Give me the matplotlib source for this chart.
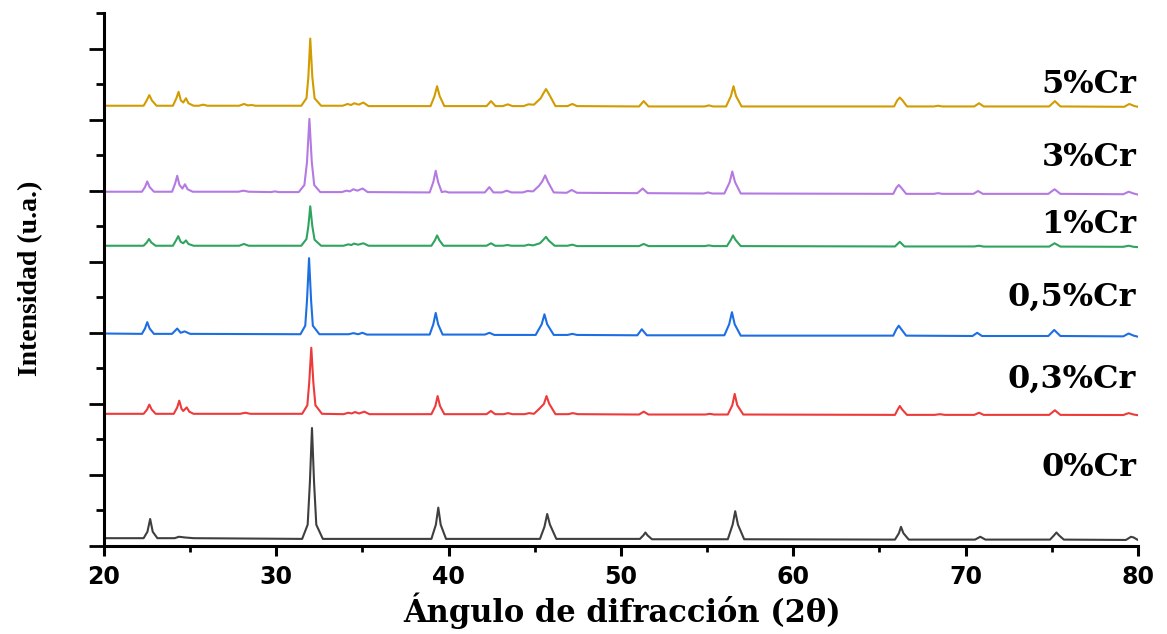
import matplotlib
matplotlib.use("Agg")
import matplotlib.pyplot as plt
from matplotlib.ticker import MultipleLocator

# ------------------------------------------------------------
# XRD patterns (2theta, stacked intensity)
# ------------------------------------------------------------
cr_0 = [(20.0, 0.11), (22.3, 0.11), (22.52, 0.2), (22.68, 0.38), (22.83, 0.2), (23.1, 0.11),
        (24.1, 0.11), (24.35, 0.13), (24.7, 0.12), (25.2, 0.11),
        (31.5, 0.10), (31.82, 0.3), (31.95, 0.9), (32.07, 1.66), (32.19, 0.9), (32.32, 0.3), (32.7, 0.10),
        (39.0, 0.10), (39.26, 0.3), (39.4, 0.54), (39.54, 0.3), (39.85, 0.10),
        (45.3, 0.10), (45.56, 0.27), (45.72, 0.45), (45.88, 0.3), (46.25, 0.10),
        (51.1, 0.10), (51.3, 0.15), (51.42, 0.19), (51.54, 0.15), (51.8, 0.095),
        (56.2, 0.095), (56.48, 0.3), (56.63, 0.49), (56.79, 0.3), (57.15, 0.095),
        (65.9, 0.09), (66.13, 0.18), (66.25, 0.27), (66.39, 0.18), (66.7, 0.09),
        (70.55, 0.09), (70.85, 0.13), (71.15, 0.09),
        (74.9, 0.09), (75.13, 0.15), (75.27, 0.19), (75.42, 0.15), (75.7, 0.09),
        (79.3, 0.085), (79.6, 0.13), (79.75, 0.12), (80.0, 0.085)]

cr_03 = [(20.0, 1.86), (22.3, 1.86), (22.5, 1.92), (22.63, 1.99), (22.77, 1.92), (23.0, 1.86),
         (24.05, 1.86), (24.25, 1.95), (24.37, 2.045), (24.5, 1.93), (24.6, 1.90), (24.8, 1.95), (24.95, 1.89), (25.2, 1.86),
         (27.9, 1.86), (28.2, 1.875), (28.5, 1.86),
         (31.5, 1.86), (31.8, 1.98), (31.91, 2.3), (32.03, 2.79), (32.15, 2.3), (32.27, 1.98), (32.65, 1.86),
         (33.9, 1.855), (34.18, 1.875), (34.37, 1.865), (34.57, 1.885), (34.8, 1.865), (35.11, 1.89), (35.4, 1.855),
         (39.0, 1.855), (39.23, 1.97), (39.36, 2.11), (39.5, 1.97), (39.75, 1.855),
         (42.2, 1.855), (42.45, 1.90), (42.7, 1.855),
         (43.2, 1.855), (43.45, 1.87), (43.7, 1.855),
         (44.4, 1.855), (44.67, 1.87), (44.95, 1.86), (45.3, 1.94), (45.53, 2.0), (45.68, 2.11), (45.84, 2.0), (46.2, 1.855),
         (46.95, 1.855), (47.2, 1.87), (47.5, 1.855),
         (51.05, 1.85), (51.32, 1.89), (51.6, 1.85),
         (54.9, 1.85), (55.16, 1.86), (55.4, 1.85),
         (56.2, 1.85), (56.46, 1.98), (56.6, 2.14), (56.75, 1.98), (57.1, 1.85),
         (65.9, 1.845), (66.06, 1.92), (66.18, 1.97), (66.32, 1.92), (66.6, 1.845),
         (68.2, 1.845), (68.5, 1.855), (68.8, 1.845),
         (70.5, 1.845), (70.78, 1.875), (71.05, 1.845),
         (74.85, 1.845), (75.18, 1.91), (75.5, 1.845),
         (79.15, 1.843), (79.46, 1.87), (79.75, 1.85), (80.0, 1.84)]

cr_05 = [(20.0, 2.99), (22.2, 2.985), (22.38, 3.06), (22.51, 3.15), (22.65, 3.06), (22.9, 2.985),
         (23.95, 2.985), (24.25, 3.06), (24.45, 3.0), (24.68, 3.02), (25.0, 2.985),
         (31.4, 2.98), (31.68, 3.1), (31.78, 3.45), (31.9, 4.05), (32.02, 3.45), (32.12, 3.1), (32.5, 2.98),
         (34.2, 2.98), (34.47, 2.995), (34.75, 2.98), (35.0, 3.0), (35.25, 2.975),
         (38.9, 2.975), (39.11, 3.12), (39.25, 3.28), (39.39, 3.12), (39.65, 2.975),
         (42.1, 2.975), (42.37, 3.0), (42.65, 2.97),
         (45.05, 2.97), (45.4, 3.12), (45.56, 3.26), (45.72, 3.12), (46.1, 2.97),
         (46.9, 2.97), (47.18, 2.985), (47.45, 2.97),
         (50.95, 2.965), (51.21, 3.05), (51.5, 2.965),
         (56.0, 2.965), (56.28, 3.12), (56.44, 3.29), (56.6, 3.12), (56.95, 2.96),
         (65.8, 2.96), (65.98, 3.05), (66.12, 3.10), (66.27, 3.05), (66.55, 2.96),
         (70.4, 2.955), (70.67, 3.0), (70.95, 2.955),
         (74.8, 2.955), (75.14, 3.04), (75.5, 2.955),
         (79.15, 2.95), (79.46, 2.99), (79.75, 2.96), (80.0, 2.945)]

cr_1 = [(20.0, 4.225), (22.3, 4.225), (22.48, 4.27), (22.61, 4.32), (22.75, 4.27), (23.0, 4.225),
        (24.0, 4.225), (24.18, 4.3), (24.31, 4.36), (24.45, 4.28), (24.6, 4.26), (24.76, 4.30), (24.9, 4.25), (25.2, 4.225),
        (27.85, 4.225), (28.12, 4.25), (28.4, 4.225),
        (31.45, 4.225), (31.75, 4.32), (31.86, 4.5), (31.97, 4.78), (32.09, 4.5), (32.22, 4.31), (32.6, 4.225),
        (33.9, 4.225), (34.18, 4.245), (34.35, 4.235), (34.51, 4.255), (34.75, 4.24), (35.05, 4.26), (35.35, 4.225),
        (39.0, 4.225), (39.2, 4.3), (39.33, 4.37), (39.47, 4.3), (39.7, 4.225),
        (42.2, 4.225), (42.46, 4.26), (42.7, 4.225),
        (43.15, 4.225), (43.41, 4.235), (43.65, 4.225),
        (44.4, 4.225), (44.63, 4.24), (44.9, 4.23), (45.3, 4.26), (45.5, 4.31), (45.65, 4.35), (45.8, 4.3), (46.15, 4.225),
        (46.9, 4.225), (47.18, 4.24), (47.45, 4.22),
        (51.05, 4.22), (51.32, 4.25), (51.6, 4.22),
        (54.85, 4.22), (55.1, 4.23), (55.35, 4.22),
        (56.15, 4.22), (56.38, 4.31), (56.5, 4.37), (56.64, 4.31), (56.95, 4.22),
        (65.9, 4.215), (66.18, 4.28), (66.45, 4.215),
        (70.5, 4.215), (70.78, 4.225), (71.05, 4.213),
        (74.85, 4.213), (75.16, 4.26), (75.5, 4.213),
        (79.15, 4.21), (79.46, 4.225), (79.75, 4.21), (80.0, 4.205)]

cr_3 = [(20.0, 4.985), (22.2, 4.985), (22.38, 5.05), (22.51, 5.13), (22.65, 5.05), (22.9, 4.985),
        (23.95, 4.985), (24.13, 5.1), (24.25, 5.21), (24.38, 5.08), (24.55, 5.03), (24.7, 5.09), (24.85, 5.02), (25.15, 4.985),
        (27.8, 4.985), (28.09, 5.0), (28.4, 4.985),
        (29.7, 4.98), (29.92, 4.99), (30.15, 4.98),
        (31.3, 4.98), (31.63, 5.08), (31.78, 5.4), (31.92, 6.01), (32.06, 5.4), (32.2, 5.08), (32.55, 4.98),
        (33.8, 4.98), (34.08, 5.0), (34.27, 4.99), (34.47, 5.02), (34.7, 5.0), (35.01, 5.03), (35.3, 4.98),
        (38.9, 4.975), (39.11, 5.12), (39.25, 5.28), (39.39, 5.12), (39.6, 4.98), (39.8, 4.99), (40.0, 4.975),
        (42.1, 4.975), (42.36, 5.05), (42.6, 4.975),
        (43.1, 4.975), (43.37, 5.0), (43.65, 4.975),
        (44.3, 4.975), (44.57, 4.995), (44.9, 4.99), (45.25, 5.07), (45.43, 5.13), (45.6, 5.215), (45.77, 5.12), (46.1, 4.975),
        (46.85, 4.97), (47.14, 5.01), (47.45, 4.97),
        (50.95, 4.965), (51.26, 5.03), (51.55, 4.965),
        (54.8, 4.96), (55.05, 4.975), (55.3, 4.96),
        (56.0, 4.96), (56.31, 5.12), (56.46, 5.27), (56.62, 5.12), (56.95, 4.96),
        (65.8, 4.955), (65.98, 5.04), (66.12, 5.08), (66.27, 5.04), (66.55, 4.955),
        (68.15, 4.955), (68.4, 4.965), (68.65, 4.955),
        (70.45, 4.955), (70.72, 4.995), (71.0, 4.955),
        (74.8, 4.955), (75.16, 5.02), (75.5, 4.955),
        (79.15, 4.95), (79.46, 4.985), (79.75, 4.96), (80.0, 4.945)]

cr_5 = [(20.0, 6.195), (22.3, 6.195), (22.48, 6.27), (22.63, 6.345), (22.78, 6.27), (23.05, 6.195),
        (24.0, 6.195), (24.2, 6.3), (24.33, 6.39), (24.46, 6.27), (24.6, 6.24), (24.76, 6.3), (24.9, 6.23), (25.2, 6.195),
        (25.5, 6.195), (25.76, 6.21), (26.0, 6.195),
        (27.85, 6.195), (28.12, 6.22), (28.35, 6.2), (28.57, 6.205), (28.8, 6.195),
        (31.45, 6.195), (31.75, 6.3), (31.86, 6.6), (31.97, 7.14), (32.09, 6.6), (32.22, 6.3), (32.6, 6.195),
        (33.85, 6.195), (34.14, 6.22), (34.33, 6.205), (34.53, 6.23), (34.78, 6.21), (35.05, 6.24), (35.35, 6.19),
        (38.95, 6.19), (39.18, 6.33), (39.33, 6.47), (39.48, 6.33), (39.75, 6.19),
        (42.2, 6.19), (42.46, 6.26), (42.72, 6.19),
        (43.15, 6.19), (43.43, 6.215), (43.7, 6.19),
        (44.35, 6.19), (44.63, 6.215), (44.95, 6.21), (45.34, 6.3), (45.5, 6.37), (45.65, 6.43), (45.82, 6.36), (46.2, 6.19),
        (46.9, 6.19), (47.18, 6.22), (47.45, 6.19),
        (51.05, 6.185), (51.32, 6.26), (51.6, 6.185),
        (54.85, 6.185), (55.1, 6.2), (55.35, 6.185),
        (56.1, 6.185), (56.38, 6.33), (56.53, 6.47), (56.68, 6.33), (57.0, 6.185),
        (65.85, 6.185), (66.03, 6.27), (66.18, 6.31), (66.34, 6.27), (66.6, 6.185),
        (68.15, 6.185), (68.4, 6.195), (68.65, 6.185),
        (70.5, 6.185), (70.78, 6.23), (71.05, 6.185),
        (74.85, 6.185), (75.18, 6.26), (75.5, 6.185),
        (79.2, 6.18), (79.5, 6.22), (79.8, 6.19), (80.0, 6.18)]

patterns = [cr_0, cr_03, cr_05, cr_1, cr_3, cr_5]
labels = ["0%Cr", "0,3%Cr", "0,5%Cr", "1%Cr", "3%Cr", "5%Cr"]
label_y = [1.10, 2.35, 3.50, 4.52, 5.47, 6.50]
colors = ["#3f3f3f", "#ee3a3a", "#1c6fe3", "#2fa45e", "#b47ae2", "#d29c00"]

# ------------------------------------------------------------
# Figure
# ------------------------------------------------------------
fig = plt.figure(figsize=(11.67, 6.34), dpi=100)
ax = fig.add_axes([0.0891, 0.1388, 0.886, 0.8407])

for pts, col in zip(patterns, colors):
    x, y = zip(*pts)
    ax.plot(x, y, color=col, lw=1.5)

for lab, yy in zip(labels, label_y):
    ax.text(79.9, yy, lab, ha="right", va="center", fontsize=23,
            fontweight="bold", family="DejaVu Serif")

ax.set_xlim(20, 80)
ax.set_ylim(0, 7.5)
ax.xaxis.set_major_locator(MultipleLocator(10))
ax.xaxis.set_minor_locator(MultipleLocator(5))
ax.yaxis.set_major_locator(MultipleLocator(1))
ax.yaxis.set_minor_locator(MultipleLocator(0.5))
ax.set_yticklabels([])

for side in ["top", "right"]:
    ax.spines[side].set_visible(False)
for side in ["left", "bottom"]:
    ax.spines[side].set_linewidth(2.2)

ax.tick_params(axis="x", which="major", direction="out", length=7.5, width=2.2, pad=6)
ax.tick_params(axis="x", which="minor", direction="out", length=4, width=2.0)
ax.tick_params(axis="y", which="major", direction="out", length=10.5, width=2.0)
ax.tick_params(axis="y", which="minor", direction="out", length=5.5, width=2.0)
for t in ax.get_xticklabels():
    t.set_fontsize(17)
    t.set_fontweight("heavy")
    t.set_family("DejaVu Sans")

fig.text(622 / 1167, 1 - 611 / 634, "Ángulo de difracción (2θ)", ha="center", va="center",
         fontsize=22, fontweight="bold", family="DejaVu Serif")
fig.text(31 / 1167, 1 - 278 / 634, "Intensidad (u.a.)", ha="center", va="center",
         rotation=90, fontsize=20, fontweight="bold", family="Liberation Serif")

fig.savefig("out.png", dpi=100)
